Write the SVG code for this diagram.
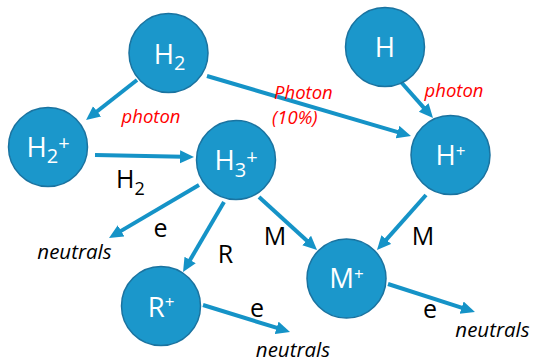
<svg xmlns="http://www.w3.org/2000/svg" width="533" height="362" viewBox="0 0 533 362">
<defs>
<marker id="ah" markerUnits="userSpaceOnUse" markerWidth="16" markerHeight="14" refX="3" refY="6.5" orient="auto">
<path d="M0,0 L14,6.5 L0,13 z" fill="#1593c7"/>
</marker>
<style>
.node circle{fill:#1b97cb;stroke:#1a73a0;stroke-width:1.5}
.nt{font-family:"Open Sans","Noto Sans",sans-serif;font-size:27.5px;fill:#ffffff;text-anchor:middle}
.lbl{font-family:"Open Sans","Noto Sans",sans-serif;font-size:25px;fill:#000000;text-anchor:middle}
.it{font-family:"Open Sans","Noto Sans",sans-serif;font-style:italic;font-size:20.5px;text-anchor:middle}
.red{fill:#ff0000;font-size:18.5px}
.blk{fill:#000000}
#connectors line{stroke:#1593c7;stroke-width:4;marker-end:url(#ah)}
</style>
</defs>
<rect width="533" height="362" fill="#ffffff"/>
<g id="connectors">
<line x1="137" y1="80" x2="94.7" y2="113.2"/>
<line x1="207" y1="76" x2="400.4" y2="132.9"/>
<line x1="95" y1="155" x2="183" y2="156.8"/>
<line x1="401" y1="82" x2="425.7" y2="109.8"/>
<line x1="199" y1="185" x2="118.5" y2="232.4"/>
<line x1="224" y1="202" x2="188.6" y2="262.5"/>
<line x1="259" y1="197" x2="308.9" y2="242.6"/>
<line x1="426" y1="195" x2="384.3" y2="241.8"/>
<line x1="388" y1="284" x2="464.5" y2="308.6"/>
<line x1="203" y1="305" x2="279.5" y2="328.7"/>
</g>
<g id="node-H2" class="node">
<circle cx="168.5" cy="53" r="39.5"/>
<text class="nt" x="169.5" y="64">H<tspan font-size="20" dy="6">2</tspan></text>
</g>
<g id="node-H" class="node">
<circle cx="385" cy="47" r="39.5"/>
<text class="nt" x="385" y="57">H</text>
</g>
<g id="node-H2plus" class="node">
<circle cx="48" cy="147" r="39.5"/>
<text class="nt" x="48" y="157">H<tspan font-size="20" dy="6">2</tspan><tspan font-size="20" dy="-13">+</tspan></text>
</g>
<g id="node-H3plus" class="node">
<circle cx="236" cy="160" r="39.5"/>
<text class="nt" x="236" y="170">H<tspan font-size="20" dy="7">3</tspan><tspan font-size="20" dy="-13.5">+</tspan></text>
</g>
<g id="node-Hplus" class="node">
<circle cx="450.5" cy="155" r="39.5"/>
<text class="nt" x="450.5" y="165">H<tspan font-size="17" dy="-8">+</tspan></text>
</g>
<g id="node-Mplus" class="node">
<circle cx="346.5" cy="278.5" r="39.5"/>
<text class="nt" x="346.5" y="288">M<tspan font-size="17" dy="-8">+</tspan></text>
</g>
<g id="node-Rplus" class="node">
<circle cx="161" cy="306" r="39.5"/>
<text class="nt" x="161" y="316.5">R<tspan font-size="17" dy="-8.5">+</tspan></text>
</g>
<g id="labels">
<text class="it red" x="151" y="123">photon</text>
<text class="it red" x="274" y="99" style="text-anchor:start">Photon</text>
<text class="it red" x="272" y="124" style="text-anchor:start">(10%)</text>
<text class="it red" x="454" y="97">photon</text>
<text class="lbl" x="116" y="188" style="text-anchor:start">H<tspan font-size="18" dy="7">2</tspan></text>
<text class="lbl" x="160.5" y="237">e</text>
<text class="lbl" x="225.5" y="263">R</text>
<text class="lbl" x="275" y="245">M</text>
<text class="lbl" x="423" y="245">M</text>
<text class="lbl" x="257" y="317">e</text>
<text class="lbl" x="430" y="318">e</text>
<text class="it blk" x="74.5" y="259">neutrals</text>
<text class="it blk" x="293" y="357">neutrals</text>
<text class="it blk" x="492.5" y="337">neutrals</text>
</g>
</svg>
